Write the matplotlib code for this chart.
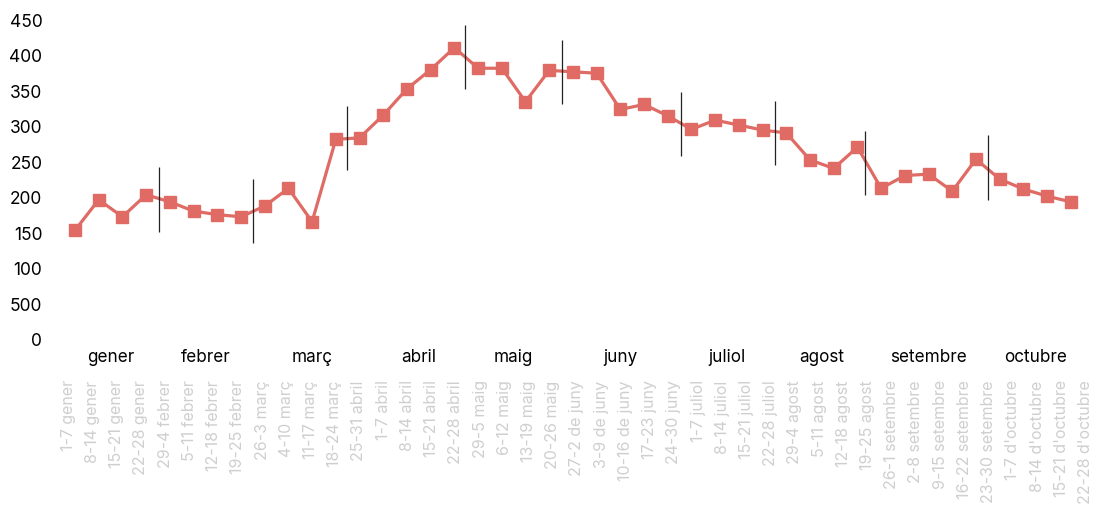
import numpy as np
import matplotlib
matplotlib.use('Agg')
import matplotlib.pyplot as plt

plt.rcParams['font.family'] = ['Inter', 'DejaVu Sans']

# month names and how many weeks fall in each
months = ['gener', 'febrer', 'març', 'abril', 'maig', 'juny', 'juliol', 'agost', 'setembre', 'octubre']
weeks_per_month = [4, 4, 5, 4, 4, 5, 4, 4, 5, 4]

week_labels = ['1-7 gener', '8-14 gener', '15-21 gener', '22-28 gener',
               '29-4 febrer', '5-11 febrer', '12-18 febrer', '19-25 febrer',
               '26-3 març', '4-10 març', '11-17 març', '18-24 març', '25-31 abril',
               '1-7 abril', '8-14 abril', '15-21 abril', '22-28 abril',
               '29-5 maig', '6-12 maig', '13-19 maig', '20-26 maig',
               '27-2 de juny', '3-9 de juny', '10-16 de juny', '17-23 juny', '24-30 juny',
               '1-7 juliol', '8-14 juliol', '15-21 juliol', '22-28 juliol',
               '29-4 agost', '5-11 agost', '12-18 agost', '19-25 agost',
               '26-1 setembre', '2-8 setembre', '9-15 setembre', '16-22 setembre', '23-30 setembre',
               "1-7 d'octubre", "8-14 d'octubre", "15-21 d'octubre", "22-28 d'octubre"]

values = [153, 196, 172, 203, 193, 180, 175, 172, 187, 212, 165, 281, 283,
          315, 352, 379, 410, 381, 381, 334, 378, 376, 374, 323, 330, 314,
          295, 308, 301, 294, 290, 252, 240, 270, 212, 230, 232, 208, 253,
          225, 211, 201, 193]

# thin black separator marks: position, bottom, top
sep_x = [3.54, 7.51, 11.47, 16.44, 20.53, 25.55, 29.54, 33.33, 38.52]
sep_lo = [150, 135, 238, 352, 331, 257, 245, 203, 196]
sep_hi = [242, 225, 328, 442, 421, 347, 335, 293, 287]

ytick_vals = [0, 50, 100, 150, 200, 250, 300, 350, 400, 450]
ytick_text = ['0', '500', '100', '150', '200', '250', '300', '350', '400', '450']

W, H = 1099, 510
fig = plt.figure(figsize=(W / 100, H / 100), dpi=100)
unit = 23.71
ax_left = 75 - 0.5 * unit
ax_right = 75 + 43.0 * unit
ax = fig.add_axes([ax_left / W, 1 - 340 / H, (ax_right - ax_left) / W, (340 - 6) / H])
ax.set_xlim(-0.5, 43.0)
ax.set_ylim(0, 470)

x = np.arange(len(values))
ax.plot(x, values, color='#df6b64', lw=2.3, marker='s', markersize=9,
        markeredgecolor='#df6b64', zorder=3)
ax.vlines(sep_x, sep_lo, sep_hi, color='#222222', lw=0.9, zorder=4)

for s in ax.spines.values():
    s.set_visible(False)

ax.set_yticks(ytick_vals)
ax.set_yticklabels(ytick_text, fontsize=12.5, color='black')
ax.tick_params(axis='y', length=0, pad=15)

# week labels are spread a bit wider than the points
n = len(week_labels)
label_pos = -0.283 + np.arange(n) * 1.0215
ax.set_xticks(label_pos)
ax.set_xticklabels(week_labels, rotation=90, fontsize=11.5, color='#cfcfcf',
                   va='top', ha='center')
ax.tick_params(axis='x', length=0, pad=29)

# month names centred on their weeks
starts = np.cumsum([0] + weeks_per_month[:-1])
for m, s0, k in zip(months, starts, weeks_per_month):
    ax.text(s0 + (k - 1) / 2, -24, m, ha='center', va='center', fontsize=12.3,
            color='black', transform=ax.transData, clip_on=False)

fig.savefig('out.png', dpi=100)
